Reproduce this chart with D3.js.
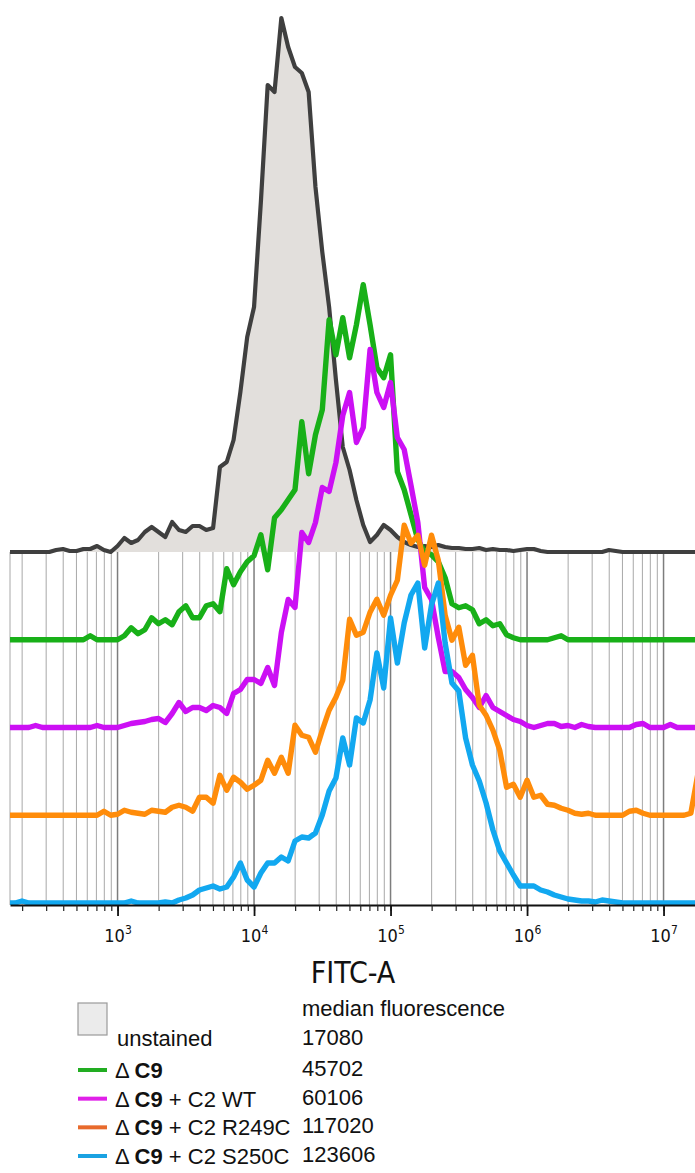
<!DOCTYPE html>
<html>
<head>
<meta charset="utf-8">
<script src="https://cdn.jsdelivr.net/npm/d3@7"></script>
<style>
  body { margin: 0; background: #fff; }
</style>
</head>
<body>
<div class="chart"></div>
<script>
// histogram bins: log10(FITC-A) from 2.20 in steps of 0.05 decade
var binStart = 2.2, binStep = 0.05;

// event counts per bin
var unstained = [0,0,0,0,0,0,0,2,3,1,
    1,3,3,6,2,0,6,14,9,12,
    20,25,20,15,30,22,20,26,26,22,
    24,85,90,112,160,215,245,350,467,460,
    534,505,485,479,460,365,300,245,172,105,
    82,52,27,10,17,27,22,15,10,7,
    5,6,5,7,5,4,4,3,3,4,
    2,3,2,2,1,2,3,3,1,0,
    0,0,0,0,0,0,0,0,2,1,
    0,0,0,0,0,0,0,0,0,0,
    0,0];
var dC9 = [0,0,0,0,0,0,0,0,0,0,
    0,0,4,0,0,0,0,4,12,6,
    10,22,16,20,15,28,34,22,22,34,
    36,28,71,55,68,78,84,105,70,122,
    130,140,150,218,166,205,230,320,285,322,
    282,315,355,315,272,262,285,168,150,125,
    100,88,85,78,62,36,32,34,30,16,
    20,14,16,5,2,0,0,0,0,0,
    2,4,0,0,0,0,0,0,0,0,
    0,0,0,0,0,0,0,0,0,0,
    0,0];
var dC9WT = [0,0,0,0,2,0,0,0,0,0,
    0,0,0,2,0,0,0,2,4,5,
    6,8,9,5,14,25,16,20,20,17,
    22,20,14,34,38,48,48,44,60,42,
    95,128,120,195,185,205,240,236,265,312,
    335,285,300,378,335,320,345,290,278,242,
    205,140,128,90,56,56,50,38,30,20,
    32,20,16,12,8,6,2,0,2,4,
    4,1,2,0,3,1,0,0,0,0,
    0,0,3,4,0,0,0,3,0,0,
    0,0];
var dC9R249C = [0,0,0,0,0,0,0,0,0,0,
    0,0,0,0,4,0,1,5,3,2,
    1,5,4,3,8,10,8,4,18,18,
    12,40,25,38,33,26,30,35,55,42,
    58,42,90,80,78,63,85,105,118,135,
    196,180,183,203,216,200,220,235,290,272,
    280,250,280,255,200,175,188,150,160,110,
    100,85,65,28,31,18,35,18,20,11,
    10,7,5,2,1,2,0,0,0,0,
    0,4,5,2,0,0,0,0,0,0,
    2,40];
var dC9S250C = [0,0,2,0,0,0,0,0,0,0,
    0,0,0,0,0,0,0,0,2,0,
    0,0,0,1,0,3,5,8,13,15,
    17,14,16,26,40,23,16,30,40,40,
    46,42,62,66,65,70,88,112,125,165,
    138,185,180,203,250,215,285,240,280,308,
    320,255,298,320,260,220,212,165,138,122,
    100,73,52,40,28,17,17,17,13,11,
    8,6,4,3,2,2,1,3,2,1,
    0,0,0,0,0,0,0,0,0,0,
    0,0];

var sampleNames = ["unstained", "C9", "C9 + C2 WT", "C9 + C2 R249C", "C9 + C2 S250C"];
var medianFluorescence = [17080, 45702, 60106, 117020, 123606];
var majorTicks = [1e3, 1e4, 1e5, 1e6, 1e7];

var lineColors = ["#3f3f3f", "#18b018", "#cc10f4", "#ff8c0a", "#12a8f0"];
var legendColors = ["#3f3f3f", "#22ad22", "#e020e8", "#e86a2c", "#1aa2e2"];

var width = 695, height = 1173;
var left = 10, right = 695, gridTop = 552, axisY = 905;

var x = d3.scaleLog().domain([163, 1.7e7]).range([left, right]);
var baseline = d3.scaleLinear().domain([0, 4]).range([552, 903]);

var bins = d3.range(unstained.length).map(function(i) { return Math.pow(10, binStart + i * binStep); });
var series = [unstained, dC9, dC9WT, dC9R249C, dC9S250C];

var svg = d3.select(".chart").append("svg")
    .attr("width", width)
    .attr("height", height);

svg.append("defs").append("clipPath").attr("id", "plot")
  .append("rect").attr("x", left).attr("y", 0).attr("width", right - left).attr("height", axisY);

function isMajor(d) { return majorTicks.indexOf(d) >= 0; }

// vertical grid only in the offset zone
var gridVals = x.ticks();
svg.append("g").selectAll("line")
    .data([163].concat(gridVals))
  .enter().append("line")
    .attr("x1", function(d) { return x(d); })
    .attr("x2", function(d) { return x(d); })
    .attr("y1", gridTop)
    .attr("y2", axisY)
    .attr("stroke", function(d) { return isMajor(d) ? "#7d7d7d" : "#a8a8a8"; })
    .attr("stroke-width", function(d) { return isMajor(d) ? 1.5 : 1; });

var plot = svg.append("g").attr("clip-path", "url(#plot)");

function yFor(k) {
    var b = baseline(k);
    return d3.scaleLinear().domain([0, 540]).range([b, b - 540]);
}

// unstained: filled
var y0 = yFor(0);
plot.append("path")
    .datum(unstained)
    .attr("d", d3.area()
        .x(function(d, i) { return x(bins[i]); })
        .y0(y0(0))
        .y1(function(d) { return y0(d); }))
    .attr("fill", "#e2dfdc");

series.forEach(function(vals, k) {
    var y = yFor(k);
    plot.append("path")
        .datum(vals)
        .attr("d", d3.line()
            .x(function(d, i) { return x(bins[i]); })
            .y(function(d) { return y(d); }))
        .attr("fill", "none")
        .attr("stroke", lineColors[k])
        .attr("stroke-width", k === 0 ? 4.2 : 5.4)
        .attr("stroke-linejoin", "round")
        .attr("stroke-linecap", "round");
});

// axis
var minorAxis = d3.axisBottom(x).tickValues(gridVals).tickSize(6).tickSizeOuter(0).tickFormat("");
var majorAxis = d3.axisBottom(x).tickValues(majorTicks).tickSize(11).tickSizeOuter(0).tickFormat("");

var gMinor = svg.append("g").attr("transform", "translate(0," + axisY + ")").call(minorAxis);
var gMajor = svg.append("g").attr("transform", "translate(0," + axisY + ")").call(majorAxis);
gMinor.select(".domain").attr("stroke", "#111").attr("stroke-width", 1.8);
gMajor.select(".domain").remove();
gMinor.selectAll(".tick line").attr("stroke", "#222").attr("stroke-width", 1.2);
gMajor.selectAll(".tick line").attr("stroke", "#111").attr("stroke-width", 1.8);

var tickFont = "'DejaVu Sans Condensed', 'DejaVu Sans', sans-serif";
var lbl = gMajor.selectAll(".tick").append("text")
    .attr("y", 37)
    .attr("fill", "#111")
    .attr("text-anchor", "middle")
    .style("font-family", tickFont)
    .style("font-size", "18px");
lbl.append("tspan").text("10");
lbl.append("tspan")
    .attr("dy", -8)
    .style("font-size", "12px")
    .text(function(d) { return Math.round(Math.log10(d)); });

svg.append("text")
    .attr("x", 353)
    .attr("y", 983)
    .attr("text-anchor", "middle")
    .style("font-family", tickFont)
    .style("font-size", "30px")
    .attr("fill", "#111")
    .text("FITC-A");

// legend
var legFont = "'Liberation Sans', Arial, sans-serif";
var legend = svg.append("g")
    .style("font-family", legFont)
    .style("font-size", "22px")
    .attr("fill", "#111");

legend.append("text").attr("x", 302).attr("y", 1016).text("median fluorescence");

legend.append("rect")
    .attr("x", 78).attr("y", 1003).attr("width", 29).attr("height", 32)
    .attr("fill", "#ebebeb").attr("stroke", "#9a9a9a").attr("stroke-width", 1.2);
legend.append("text").attr("x", 117).attr("y", 1046).text(sampleNames[0]);
legend.append("text").attr("x", 302).attr("y", 1045).text(medianFluorescence[0]);

var rowY = d3.scaleLinear().domain([1, 4]).range([1070, 1156]);
d3.range(1, 5).forEach(function(k) {
    var yy = rowY(k);
    legend.append("line")
        .attr("x1", 78).attr("x2", 107).attr("y1", yy).attr("y2", yy)
        .attr("stroke", legendColors[k]).attr("stroke-width", 4);
    var t = legend.append("text").attr("x", 115).attr("y", yy + 8);
    t.append("tspan").text("\u0394 ");
    t.append("tspan").style("font-weight", "bold").text("C9");
    var rest = sampleNames[k].slice(2);
    if (rest) t.append("tspan").text(rest);
    legend.append("text").attr("x", 302).attr("y", yy + 6).text(medianFluorescence[k]);
});
</script>
</body>
</html>
